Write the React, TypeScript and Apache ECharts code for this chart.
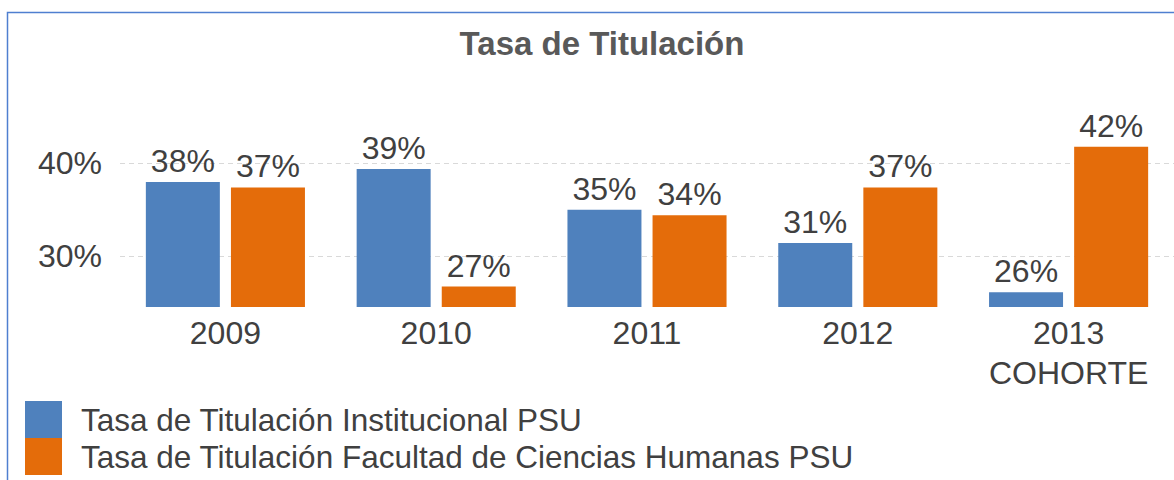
import React, { useEffect, useRef } from "react";
import * as echarts from "echarts";

const categories = ["2009", "2010", "2011", "2012", "2013\nCOHORTE"];
const institucional = [38.0, 39.4, 35.0, 31.4, 26.1];
const facultad = [37.4, 26.7, 34.4, 37.4, 41.8];
const yTicks = [30, 40];
const seriesNames = [
  "Tasa de Titulación Institucional PSU",
  "Tasa de Titulación Facultad de Ciencias Humanas PSU",
];
const titleText = "Tasa de Titulación";

const FONT = "'Liberation Sans', Arial, sans-serif";
const TEXT = "#404040";

export default function App() {
  const ref = useRef<HTMLDivElement>(null);
  useEffect(() => {
    document.body.style.margin = "0";
    const chart = echarts.init(ref.current!, undefined, { renderer: "svg" });
    const label = {
      show: true,
      position: "top",
      distance: 5,
      fontFamily: FONT,
      fontSize: 32,
      color: TEXT,
      formatter: (p: any) => Math.round(p.value) + "%",
    };
    chart.setOption({
      animation: false,
      backgroundColor: "#ffffff",
      title: {
        text: titleText,
        left: 597,
        top: 22,
        textAlign: "center",
        textStyle: { fontFamily: FONT, fontSize: 33, fontWeight: "bold", color: "#595959" },
      },
      graphic: [
        {
          type: "rect",
          shape: { x: 7.5, y: 12.5, width: 1300, height: 600 },
          style: { fill: "none", stroke: "#4F7FD0", lineWidth: 1.5 },
          silent: true,
        },
      ],
      legend: {
        orient: "vertical",
        left: 25,
        top: 401,
        padding: 0,
        itemGap: 0,
        itemWidth: 37,
        itemHeight: 37,
        icon: "rect",
        textStyle: { fontFamily: FONT, fontSize: 31.5, color: TEXT, padding: [0, 0, 0, 14] },
        data: seriesNames,
      },
      grid: { left: 120, right: -6, top: 117, bottom: 173, containLabel: false },
      xAxis: {
        type: "category",
        data: categories,
        axisLine: { show: false },
        axisTick: { show: false },
        axisLabel: { fontFamily: FONT, fontSize: 32, color: TEXT, lineHeight: 40, margin: 6 },
      },
      yAxis: {
        type: "value",
        min: 24.5,
        max: 45,
        axisLine: { show: false },
        axisTick: { show: false, customValues: yTicks },
        axisLabel: {
          customValues: yTicks,
          fontFamily: FONT,
          fontSize: 32,
          color: TEXT,
          margin: 18,
          formatter: (v: number) => v + "%",
        },
        splitLine: { show: true, lineStyle: { color: "#D9D9D9", type: [5, 4], width: 1 } },
      },
      series: [
        {
          name: seriesNames[0],
          type: "bar",
          data: institucional,
          barWidth: 74,
          barGap: "15%",
          itemStyle: { color: "#4F81BD" },
          label,
        },
        {
          name: seriesNames[1],
          type: "bar",
          data: facultad,
          barWidth: 74,
          barGap: "15%",
          itemStyle: { color: "#E46C0A" },
          label,
        },
      ],
    });
    return () => chart.dispose();
  }, []);
  return <div ref={ref} style={{ width: 1174, height: 480 }} />;
}
